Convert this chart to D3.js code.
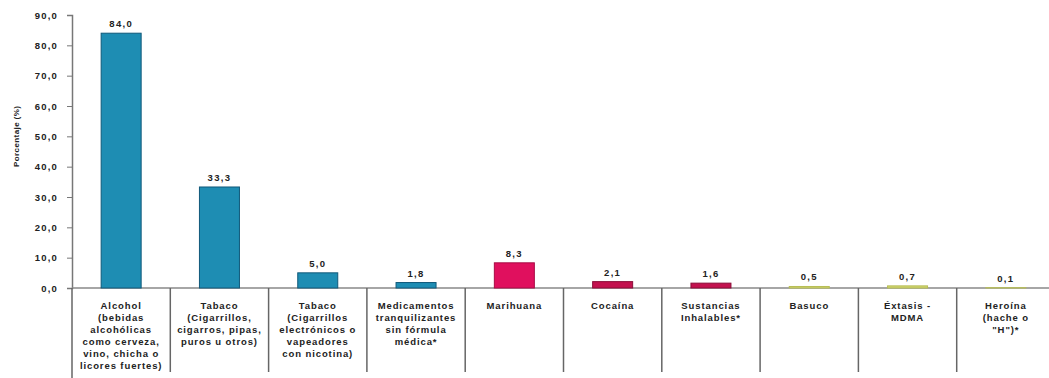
<!DOCTYPE html>
<html>
<head>
<meta charset="utf-8">
<script src="https://cdn.jsdelivr.net/npm/d3@7"></script>
<style>
  body { margin: 0; background: #fff; }
  text { font-family: "Liberation Sans", Arial, sans-serif; font-weight: bold; fill: #222; }
</style>
</head>
<body>
<div id="chart"></div>
<script>
// カテゴリ（改行済みのラベル）
const categories = [
  ["Alcohol", "(bebidas", "alcohólicas", "como cerveza,", "vino, chicha o", "licores fuertes)"],
  ["Tabaco", "(Cigarrillos,", "cigarros, pipas,", "puros u otros)"],
  ["Tabaco", "(Cigarrillos", "electrónicos o", "vapeadores", "con nicotina)"],
  ["Medicamentos", "tranquilizantes", "sin fórmula", "médica*"],
  ["Marihuana"],
  ["Cocaína"],
  ["Sustancias", "Inhalables*"],
  ["Basuco"],
  ["Éxtasis -", "MDMA"],
  ["Heroína", "(hache o", "\"H\")*"]
];
const values = [84.0, 33.3, 5.0, 1.8, 8.3, 2.1, 1.6, 0.5, 0.7, 0.1];
const groups = ["legal", "legal", "legal", "legal", "marihuana", "cocaina", "cocaina", "otras", "otras", "otras"];
const yTicks = [0, 10, 20, 30, 40, 50, 60, 70, 80, 90];

const width = 1049;
const height = 378;
const margin = {top: 15, right: -6, bottom: 90, left: 72};

const svg = d3.select('#chart')
  .append('svg')
  .attr('width', width)
  .attr('height', height);

const x = d3.scaleBand()
  .domain(d3.range(categories.length))
  .range([margin.left, width - margin.right])
  .paddingInner(0)
  .paddingOuter(0);

const y = d3.scaleLinear()
  .domain([0, 90])
  .range([height - margin.bottom, margin.top]);

const color = d3.scaleOrdinal()
  .domain(["legal", "marihuana", "cocaina", "otras"])
  .range(["#1e8db3", "#e0105e", "#c3124f", "#cfd56f"]);
const stroke = d3.scaleOrdinal()
  .domain(["legal", "marihuana", "cocaina", "otras"])
  .range(["#10597a", "#a80c46", "#8a0d38", "#b7bd55"]);

const fmt = v => d3.format('.1f')(v).replace('.', ',');

// 縦軸
const yAxis = svg.append('g')
  .attr('transform', `translate(${margin.left},0)`)
  .call(d3.axisLeft(y).tickValues(yTicks).tickSize(5).tickFormat(fmt));
yAxis.select('.domain').attr('stroke', '#777').attr('stroke-width', 1.5);
yAxis.selectAll('.tick line').attr('stroke', '#777');
yAxis.selectAll('.tick text')
  .attr('x', -14)
  .style('font-size', '9.5px')
  .style('letter-spacing', '1.2px')
  .style('font-family', '"Liberation Sans", Arial, sans-serif')
  .style('font-weight', 'bold')
  .attr('fill', '#333');

// 縦軸タイトル
svg.append('text')
  .attr('transform', `translate(16,${y(50)}) rotate(-90)`)
  .attr('text-anchor', 'middle')
  .attr('dy', '0.35em')
  .style('font-size', '8px')
  .style('letter-spacing', '0.4px')
  .text('Porcentaje (%)');

// 横軸の線と区切り線
svg.append('line')
  .attr('x1', margin.left).attr('x2', width)
  .attr('y1', y(0)).attr('y2', y(0))
  .attr('stroke', '#888').attr('stroke-width', 1.5);

svg.selectAll('.sep')
  .data(d3.range(categories.length))
  .enter()
  .append('line')
  .attr('class', 'sep')
  .attr('x1', d => x(d)).attr('x2', d => x(d))
  .attr('y1', y(0))
  .attr('y2', d => d === 0 ? height : height - 6)
  .attr('stroke', '#666').attr('stroke-width', 1.5);

// 棒
const barW = 40;
svg.selectAll('.bar')
  .data(values)
  .enter()
  .append('rect')
  .attr('class', 'bar')
  .attr('x', (d, i) => x(i) + x.bandwidth() / 2 - barW / 2)
  .attr('y', d => y(d))
  .attr('width', barW)
  .attr('height', d => y(0) - y(d))
  .attr('fill', (d, i) => color(groups[i]))
  .attr('stroke', (d, i) => stroke(groups[i]))
  .attr('stroke-width', 1);

// 値ラベル
svg.selectAll('.val')
  .data(values)
  .enter()
  .append('text')
  .attr('class', 'val')
  .attr('x', (d, i) => x(i) + x.bandwidth() / 2)
  .attr('y', d => y(d) - 6)
  .attr('text-anchor', 'middle')
  .style('font-size', '9.5px')
  .style('letter-spacing', '1.3px')
  .text(d => fmt(d));

// カテゴリラベル
const labels = svg.selectAll('.cat')
  .data(categories)
  .enter()
  .append('text')
  .attr('class', 'cat')
  .attr('text-anchor', 'middle')
  .style('font-size', '9.5px')
  .style('letter-spacing', '0.9px');

labels.selectAll('tspan')
  .data((d, i) => d.map(line => ({line, i})))
  .enter()
  .append('tspan')
  .attr('x', d => x(d.i) + x.bandwidth() / 2)
  .attr('y', (d, j) => y(0) + 21 + j * 12)
  .text(d => d.line);
</script>
</body>
</html>
